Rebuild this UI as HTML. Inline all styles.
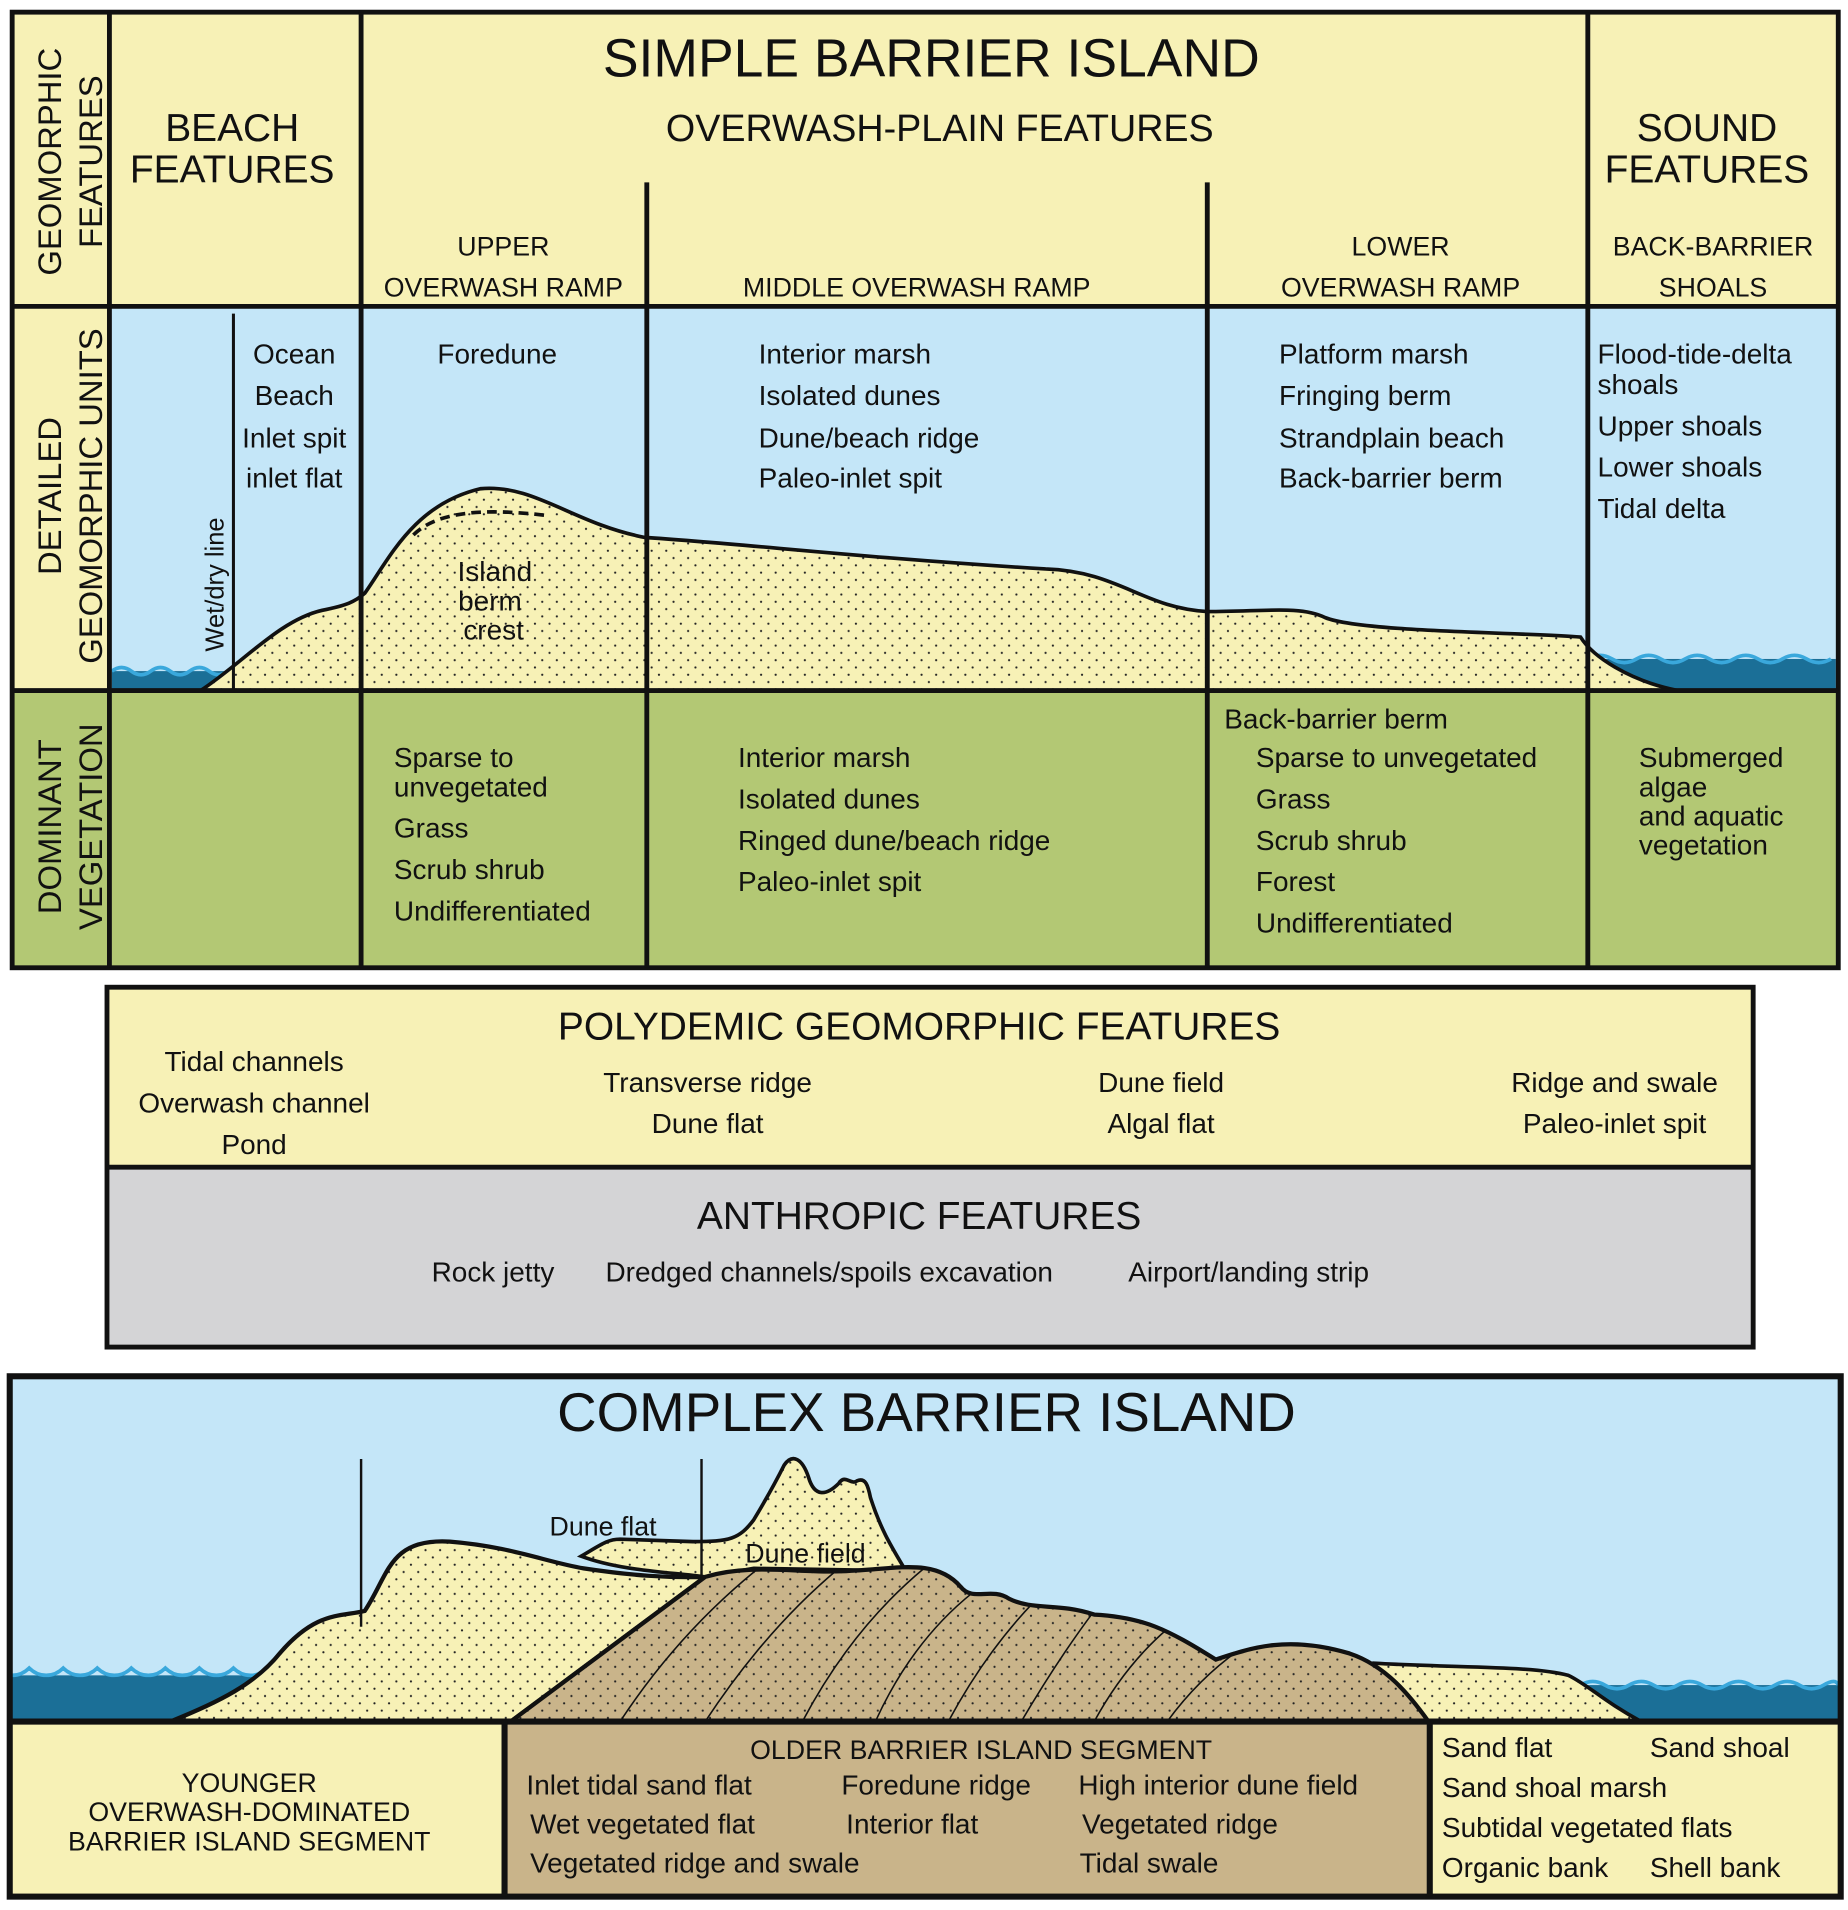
<!DOCTYPE html>
<html><head><meta charset="utf-8"><style>
html,body{margin:0;padding:0;background:#fff;}
svg{display:block;}
text{font-family:"Liberation Sans",sans-serif;fill:#111;}
</style></head><body>
<svg width="1848" height="1910" viewBox="0 0 1520 1571" xmlns="http://www.w3.org/2000/svg">
<defs>
<pattern id="dots" width="12" height="12" patternUnits="userSpaceOnUse">
<rect width="12" height="12" fill="#f7f1b6"/>
<circle cx="2" cy="3" r="0.9" fill="#222"/><circle cx="8" cy="9" r="0.9" fill="#222"/>
</pattern>
<pattern id="tdots" width="12" height="12" patternUnits="userSpaceOnUse">
<rect width="12" height="12" fill="#c9b48a"/>
<circle cx="2" cy="3" r="0.9" fill="#222"/><circle cx="8" cy="9" r="0.9" fill="#222"/>
</pattern>
<clipPath id="tanclip"><path d="M420,1416 L580,1297 C620,1285 660,1295 700,1292 C740,1290 770,1282 790,1305 C800,1318 815,1305 830,1315 C850,1325 870,1318 900,1328 C940,1330 960,1340 1000,1365 C1030,1355 1060,1345 1110,1360 C1140,1370 1160,1395 1175,1416 Z"/></clipPath>
</defs>
<rect width="1520" height="1571" fill="#fff"/>
<rect x="10" y="10" width="1502" height="242" fill="#f7f1b6"/>
<rect x="10" y="252" width="1502" height="316" fill="#c4e6f8"/>
<rect x="10" y="568" width="1502" height="228" fill="#b3c874"/>
<rect x="10" y="252" width="80" height="316" fill="#f7f1b6"/>
<rect x="92" y="552" width="100" height="16" fill="#1b6f97"/>
<path d="M92,552 q8,-6 16,0 t16,0 t16,0 t16,0 t16,0 t16,0" fill="none" stroke="#3aa8dc" stroke-width="3"/>
<rect x="1306" y="542" width="204" height="26" fill="#1b6f97"/>
<path d="M1306,542 q10,-6 20,0 t20,0 t20,0 t20,0 t20,0 t20,0 t20,0 t20,0 t20,0 t20,0" fill="none" stroke="#3aa8dc" stroke-width="3"/>
<path d="M165,568 C200,545 230,510 265,502 C285,498 292,495 300,488 C320,460 340,415 395,402 C440,398 470,430 530,442 C620,448 700,458 860,468 C920,470 940,500 993,503 C1040,503 1070,498 1090,508 C1120,520 1250,520 1300,524 C1310,540 1340,560 1380,568 Z" fill="url(#dots)" stroke="#111" stroke-width="3"/>
<path d="M340,440 C360,420 400,418 450,424" fill="none" stroke="#111" stroke-width="3" stroke-dasharray="8,5"/>
<line x1="192" y1="258" x2="192" y2="568" stroke="#111" stroke-width="2.5"/>
<g stroke="#111" stroke-width="4" fill="none">
<rect x="10" y="10" width="1502" height="786"/>
<line x1="10" y1="252" x2="1512" y2="252"/>
<line x1="10" y1="568" x2="1512" y2="568"/>
<line x1="90" y1="10" x2="90" y2="796"/>
<line x1="297" y1="10" x2="297" y2="796"/>
<line x1="532" y1="150" x2="532" y2="796"/>
<line x1="993" y1="150" x2="993" y2="796"/>
<line x1="1306" y1="10" x2="1306" y2="796"/>
</g>
<g font-size="27" text-anchor="middle">
<text transform="translate(50,133) rotate(-90)">GEOMORPHIC</text>
<text transform="translate(84,133) rotate(-90)">FEATURES</text>
<text transform="translate(50,408) rotate(-90)">DETAILED</text>
<text transform="translate(84,408) rotate(-90)">GEOMORPHIC UNITS</text>
<text transform="translate(50,680) rotate(-90)">DOMINANT</text>
<text transform="translate(84,680) rotate(-90)">VEGETATION</text>
</g>
<g text-anchor="middle">
<text x="766" y="63" font-size="44">SIMPLE BARRIER ISLAND</text>
<text x="773" y="116" font-size="31">OVERWASH-PLAIN FEATURES</text>
<text x="191" y="116" font-size="32">BEACH</text>
<text x="191" y="150" font-size="32">FEATURES</text>
<text x="1404" y="116" font-size="32">SOUND</text>
<text x="1404" y="150" font-size="32">FEATURES</text>
<g font-size="22">
<text x="414" y="210">UPPER</text><text x="414" y="244">OVERWASH RAMP</text>
<text x="754" y="244">MIDDLE OVERWASH RAMP</text>
<text x="1152" y="210">LOWER</text><text x="1152" y="244">OVERWASH RAMP</text>
<text x="1409" y="210">BACK-BARRIER</text><text x="1409" y="244">SHOALS</text>
</g>
<g font-size="23">
<text x="242" y="299">Ocean</text><text x="242" y="333">Beach</text>
<text x="242" y="368">Inlet spit</text><text x="242" y="401">inlet flat</text>
<text x="409" y="299">Foredune</text>
<text x="407" y="478">Island</text><text x="403" y="502">berm</text><text x="406" y="526">crest</text>
</g>
</g>
<text transform="translate(184,536) rotate(-90)" font-size="21">Wet/dry line</text>
<g font-size="23">
<text x="624" y="299">Interior marsh</text><text x="624" y="333">Isolated dunes</text>
<text x="624" y="368">Dune/beach ridge</text><text x="624" y="401">Paleo-inlet spit</text>
<text x="1052" y="299">Platform marsh</text><text x="1052" y="333">Fringing berm</text>
<text x="1052" y="368">Strandplain beach</text><text x="1052" y="401">Back-barrier berm</text>
<text x="1314" y="299">Flood-tide-delta</text><text x="1314" y="324">shoals</text>
<text x="1314" y="358">Upper shoals</text><text x="1314" y="392">Lower shoals</text><text x="1314" y="426">Tidal delta</text>
<text x="324" y="631">Sparse to</text><text x="324" y="655">unvegetated</text>
<text x="324" y="689">Grass</text><text x="324" y="723">Scrub shrub</text><text x="324" y="757">Undifferentiated</text>
<text x="607" y="631">Interior marsh</text><text x="607" y="665">Isolated dunes</text>
<text x="607" y="699">Ringed dune/beach ridge</text><text x="607" y="733">Paleo-inlet spit</text>
<text x="1007" y="599">Back-barrier berm</text>
<text x="1033" y="631">Sparse to unvegetated</text><text x="1033" y="665">Grass</text>
<text x="1033" y="699">Scrub shrub</text><text x="1033" y="733">Forest</text><text x="1033" y="767">Undifferentiated</text>
<text x="1348" y="631">Submerged</text><text x="1348" y="655">algae</text>
<text x="1348" y="679">and aquatic</text><text x="1348" y="703">vegetation</text>
</g>
<rect x="88" y="812" width="1354" height="148" fill="#f7f1b6"/>
<rect x="88" y="960" width="1354" height="148" fill="#d4d4d6"/>
<g stroke="#111" stroke-width="4" fill="none">
<rect x="88" y="812" width="1354" height="296"/>
<line x1="88" y1="960" x2="1442" y2="960"/>
</g>
<g text-anchor="middle">
<text x="756" y="855" font-size="32">POLYDEMIC GEOMORPHIC FEATURES</text>
<text x="756" y="1011" font-size="32">ANTHROPIC FEATURES</text>
<g font-size="23">
<text x="209" y="881">Tidal channels</text><text x="209" y="915">Overwash channel</text><text x="209" y="949">Pond</text>
<text x="582" y="898">Transverse ridge</text><text x="582" y="932">Dune flat</text>
<text x="955" y="898">Dune field</text><text x="955" y="932">Algal flat</text>
<text x="1328" y="898">Ridge and swale</text><text x="1328" y="932">Paleo-inlet spit</text>
</g>
</g>
<g font-size="23">
<text x="355" y="1054">Rock jetty</text>
<text x="498" y="1054">Dredged channels/spoils excavation</text>
<text x="928" y="1054">Airport/landing strip</text>
</g>
<rect x="8" y="1132" width="1506" height="284" fill="#c4e6f8"/>
<rect x="8" y="1416" width="407" height="144" fill="#f7f1b6"/>
<rect x="415" y="1416" width="761" height="144" fill="#c9b48a"/>
<rect x="1176" y="1416" width="338" height="144" fill="#f7f1b6"/>
<rect x="10" y="1378" width="240" height="38" fill="#1b6f97"/>
<path d="M10,1378 q8,-0 14,-6 q6,6 14,6 q8,0 14,-6 q6,6 14,6 q8,0 14,-6 q6,6 14,6 q8,0 14,-6 q6,6 14,6 q8,0 14,-6 q6,6 14,6 q8,0 14,-6 q6,6 14,6 q8,0 14,-6 q6,6 14,6 q8,0 14,-6 q6,6 14,6" fill="none" stroke="#3aa8dc" stroke-width="3"/>
<rect x="1300" y="1386" width="212" height="30" fill="#1b6f97"/>
<path d="M1300,1386 q10,-6 20,0 t20,0 t20,0 t20,0 t20,0 t20,0 t20,0 t20,0 t20,0 t20,0 t12,0" fill="none" stroke="#3aa8dc" stroke-width="3"/>
<path d="M1120,1416 L1130,1368 C1200,1372 1260,1370 1290,1378 C1305,1385 1320,1400 1350,1416 Z" fill="url(#dots)" stroke="#111" stroke-width="3"/>
<path d="M140,1416 C180,1400 210,1385 230,1360 C260,1325 280,1330 300,1325 C320,1295 320,1265 370,1268 C420,1272 450,1285 480,1290 C520,1296 550,1298 580,1297 L420,1416 Z" fill="url(#dots)" stroke="#111" stroke-width="3.5"/>
<path d="M478,1280 C495,1270 500,1266 510,1266 L570,1268 C600,1268 608,1266 620,1250 C635,1225 640,1215 645,1205 C652,1195 660,1200 665,1215 C670,1232 680,1230 690,1220 C695,1212 700,1222 705,1218 C712,1215 714,1222 716,1232 C725,1260 735,1275 745,1292 L620,1290 L580,1297 C550,1293 510,1292 478,1280 Z" fill="url(#dots)" stroke="#111" stroke-width="3"/>
<path d="M420,1416 L580,1297 C620,1285 660,1295 700,1292 C740,1290 770,1282 790,1305 C800,1318 815,1305 830,1315 C850,1325 870,1318 900,1328 C940,1330 960,1340 1000,1365 C1030,1355 1060,1345 1110,1360 C1140,1370 1160,1395 1175,1416 Z" fill="url(#tdots)"/>
<g clip-path="url(#tanclip)" stroke="#111" stroke-width="1.3" fill="none">
<path d="M510,1416 Q560,1340 630,1285"/><path d="M580,1416 Q630,1340 690,1290"/><path d="M660,1416 Q700,1340 760,1290"/>
<path d="M720,1416 Q750,1350 800,1310"/><path d="M780,1416 Q810,1360 850,1318"/><path d="M840,1416 Q870,1365 900,1325"/>
<path d="M900,1416 Q925,1370 960,1340"/><path d="M960,1416 Q990,1375 1030,1350"/>
</g>
<path d="M420,1416 L580,1297 C620,1285 660,1295 700,1292 C740,1290 770,1282 790,1305 C800,1318 815,1305 830,1315 C850,1325 870,1318 900,1328 C940,1330 960,1340 1000,1365 C1030,1355 1060,1345 1110,1360 C1140,1370 1160,1395 1175,1416" fill="none" stroke="#111" stroke-width="3.5"/>
<line x1="297" y1="1200" x2="297" y2="1338" stroke="#111" stroke-width="2"/>
<line x1="577" y1="1200" x2="577" y2="1297" stroke="#111" stroke-width="2"/>
<g stroke="#111" stroke-width="5" fill="none">
<rect x="8" y="1132" width="1506" height="428"/>
<line x1="8" y1="1416" x2="1514" y2="1416"/>
<line x1="415" y1="1416" x2="415" y2="1560"/>
<line x1="1176" y1="1416" x2="1176" y2="1560"/>
</g>
<g text-anchor="middle">
<text x="762" y="1177" font-size="45">COMPLEX BARRIER ISLAND</text>
<g font-size="22">
<text x="205" y="1474">YOUNGER</text>
<text x="205" y="1498">OVERWASH-DOMINATED</text>
<text x="205" y="1522">BARRIER ISLAND SEGMENT</text>
<text x="807" y="1447">OLDER BARRIER ISLAND SEGMENT</text>
</g>
</g>
<g font-size="22">
<text x="452" y="1263">Dune flat</text>
<text x="613" y="1285">Dune field</text>
</g>
<g font-size="23">
<text x="433" y="1476">Inlet tidal sand flat</text><text x="692" y="1476">Foredune ridge</text><text x="887" y="1476">High interior dune field</text>
<text x="436" y="1508">Wet vegetated flat</text><text x="696" y="1508">Interior flat</text><text x="890" y="1508">Vegetated ridge</text>
<text x="436" y="1540">Vegetated ridge and swale</text><text x="888" y="1540">Tidal swale</text>
<text x="1186" y="1445">Sand flat</text><text x="1357" y="1445">Sand shoal</text>
<text x="1186" y="1478">Sand shoal marsh</text>
<text x="1186" y="1511">Subtidal vegetated flats</text>
<text x="1186" y="1544">Organic bank</text><text x="1357" y="1544">Shell bank</text>
</g>
</svg>
</body></html>
